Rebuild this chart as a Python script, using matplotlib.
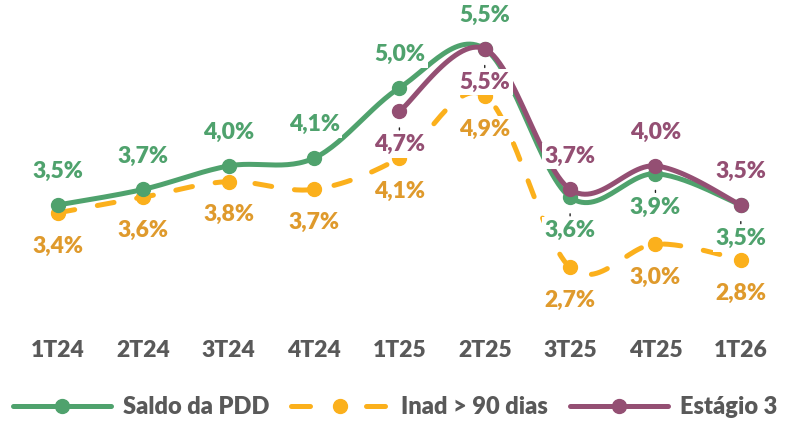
import numpy as np
import matplotlib.pyplot as plt

# quarterly ratios (%)
quarters = ["1T24", "2T24", "3T24", "4T24", "1T25", "2T25", "3T25", "4T25", "1T26"]
saldo_pdd = [3.5, 3.7, 4.0, 4.1, 5.0, 5.5, 3.6, 3.9, 3.5]
inad_90 = [3.4, 3.6, 3.8, 3.7, 4.1, 4.9, 2.7, 3.0, 2.8]
estagio3 = [None, None, None, None, 4.7, 5.5, 3.7, 4.0, 3.5]

GREEN = "#4fa26d"
ORANGE = "#fbb01c"
ORANGE_TXT = "#df9a2c"
PURPLE = "#944f73"
GRAY = "#595959"
WEIGHT = "heavy"

plt.rcParams["font.family"] = ["Lato", "DejaVu Sans"]


def smooth(xs, ys, n=30):
    # Excel-style smoothed line: cubic Bezier with Catmull-Rom control points
    p = np.column_stack([xs, ys]).astype(float)
    p_ext = np.vstack([p[0], p, p[-1]])
    out = []
    t = np.linspace(0, 1, n)[:, None]
    for i in range(len(p) - 1):
        p0, p1, p2, p3 = p_ext[i], p_ext[i + 1], p_ext[i + 2], p_ext[i + 3]
        c1 = p1 + (p2 - p0) / 6
        c2 = p2 - (p3 - p1) / 6
        seg = ((1 - t) ** 3) * p1 + 3 * ((1 - t) ** 2) * t * c1 + 3 * (1 - t) * t ** 2 * c2 + t ** 3 * p2
        out.append(seg if i == 0 else seg[1:])
    out = np.vstack(out)
    return out[:, 0], out[:, 1]


fig = plt.figure(figsize=(7.93, 4.26), dpi=100)
ax = fig.add_axes([0.0193, 0.244, 0.9687, 0.733])

x = np.arange(len(quarters))

# Inad > 90 dias
sx, sy = smooth(x, inad_90)
ax.plot(sx, sy, color=ORANGE, lw=3.6, dashes=(3.4, 4.6), dash_capstyle="round", zorder=2)
ax.plot(x, inad_90, "o", color=ORANGE, ms=10, zorder=2)

# Saldo da PDD
sx, sy = smooth(x, saldo_pdd)
ax.plot(sx, sy, color=GREEN, lw=3.6, solid_capstyle="round", zorder=3)
ax.plot(x, saldo_pdd, "o", color=GREEN, ms=10, zorder=3)

# Estágio 3
idx = [i for i, v in enumerate(estagio3) if v is not None]
e_vals = [estagio3[i] for i in idx]
sx, sy = smooth(np.array(idx), e_vals)
ax.plot(sx, sy, color=PURPLE, lw=3.6, solid_capstyle="round", zorder=4)
ax.plot(idx, e_vals, "o", color=PURPLE, ms=10, zorder=4)

# legend proxies
h1, = ax.plot([], [], color=GREEN, lw=3.6, marker="o", ms=10, solid_capstyle="round")
h2, = ax.plot([], [], color=ORANGE, lw=3.6, dashes=(3.8, 11.2), dash_capstyle="round",
              marker="o", ms=10)
h3, = ax.plot([], [], color=PURPLE, lw=3.6, marker="o", ms=10, solid_capstyle="round")


def fmt(v):
    return f"{v:.1f}%".replace(".", ",")


box = dict(boxstyle="square,pad=0.12", fc="white", ec="none")


def label(xi, v, color, up, leader=False):
    off = 24 if up else -24
    kw = {}
    if leader:
        kw["arrowprops"] = dict(arrowstyle="-", color="#222222", lw=1.0,
                                shrinkA=1, shrinkB=12)
    ax.annotate(fmt(v), (xi, v), xytext=(0, off), textcoords="offset points",
                ha="center", va="center", fontsize=16.5, fontweight=WEIGHT,
                color=color, bbox=box, zorder=6, **kw)


green_up = [True, True, True, True, True, True, False, False, False]
for i, v in enumerate(saldo_pdd):
    label(i, v, GREEN, green_up[i], leader=not green_up[i])

for i, v in enumerate(inad_90):
    label(i, v, ORANGE_TXT, False)

purple_up = {4: False, 5: False, 6: True, 7: True, 8: True}
for i in idx:
    label(i, estagio3[i], PURPLE, purple_up[i], leader=not purple_up[i])

ax.set_xlim(-0.5, len(quarters) - 0.5)
ax.set_ylim(2.0, 6.0)
ax.set_xticks(x)
ax.set_xticklabels(quarters, fontsize=16.5, fontweight=WEIGHT, color=GRAY)
ax.tick_params(axis="x", length=0, pad=13)
ax.set_yticks([])
for s in ax.spines.values():
    s.set_visible(False)

fig.legend([h1, h2, h3], ["Saldo da PDD", "Inad > 90 dias", "Estágio 3"],
           loc="center", bbox_to_anchor=(0.498, 0.045), ncol=3, frameon=False,
           handlelength=4.15, handletextpad=0.5, columnspacing=0.93, numpoints=1,
           borderpad=0, prop=dict(size=17, weight=WEIGHT), labelcolor=GRAY)

fig.savefig("out.png", dpi=100)
